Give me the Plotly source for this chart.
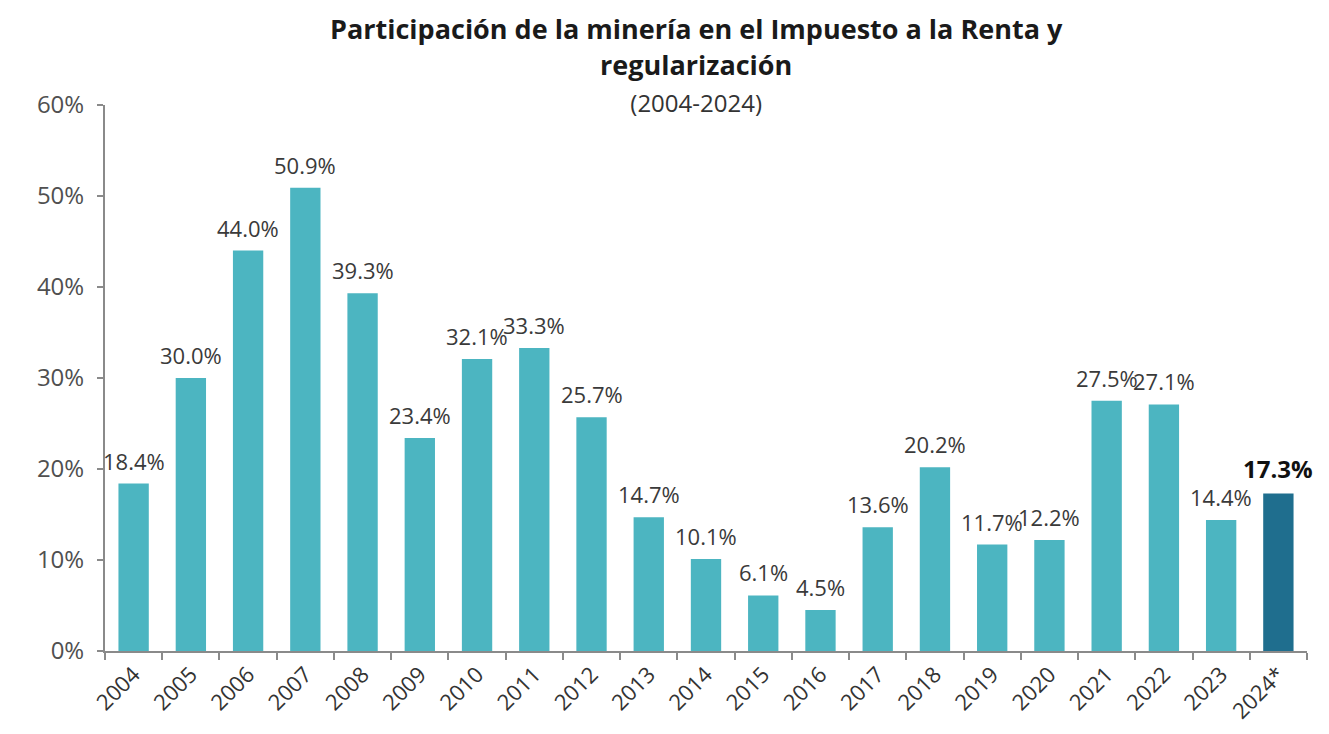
import plotly.graph_objects as go

years = ["2004", "2005", "2006", "2007", "2008", "2009", "2010", "2011", "2012", "2013",
         "2014", "2015", "2016", "2017", "2018", "2019", "2020", "2021", "2022", "2023", "2024*"]
values = [18.4, 30.0, 44.0, 50.9, 39.3, 23.4, 32.1, 33.3, 25.7, 14.7,
          10.1, 6.1, 4.5, 13.6, 20.2, 11.7, 12.2, 27.5, 27.1, 14.4, 17.3]
y_ticks = [0, 10, 20, 30, 40, 50, 60]
y_tick_labels = ["0%", "10%", "20%", "30%", "40%", "50%", "60%"]
title_line1 = "Participación de la minería en el Impuesto a la Renta y"
title_line2 = "regularización"
subtitle = "(2004-2024)"

LIGHT = "#4CB5C1"
DARK = "#1F6E8E"
FONT = "'Open Sans', sans-serif"

colors = [DARK if y.endswith("*") else LIGHT for y in years]

fig = go.Figure(go.Bar(
    x=years, y=values,
    marker=dict(color=colors, line=dict(width=0)),
    width=0.53,
    hoverinfo="x+y",
))

annotations = []
for i, (y, v) in enumerate(zip(years, values)):
    star = y.endswith("*")
    annotations.append(dict(
        x=i, y=v, xref="x", yref="y",   # category index on the category axis
        text=f"<b>{v:.1f}%</b>" if star else f"{v:.1f}%",
        showarrow=False, xanchor="center", yanchor="bottom", yshift=7 if star else 6,
        font=dict(family=FONT, size=24 if star else 22, color="#111111" if star else "#3a3a3a"),
    ))

# title block: one text element, three lines (line spacing follows the base size)
title_text = (f"<span style='font-size:27px'><b>{title_line1}</b></span><br>"
              f"<span style='font-size:27px'><b>{title_line2}</b></span><br>"
              f"<span style='font-size:24px;color:#333333'>{subtitle}</span>")
annotations.append(dict(
    x=0.4917, y=1.075, xref="paper", yref="paper", text=title_text,
    showarrow=False, xanchor="center", yanchor="middle", align="center",
    font=dict(family=FONT, size=28, color="#1a1a1a"),
))

# page body has an 8px default margin; compensate so the chart lands at the reference pixels
fig.update_layout(
    width=1321, height=726,
    paper_bgcolor="white", plot_bgcolor="white",
    margin=dict(l=97, r=22, t=97, b=83),
    showlegend=False,
    font=dict(family=FONT, color="#404040"),
    annotations=annotations,
    xaxis=dict(
        type="category", range=[-0.5, len(years) - 0.5],
        showline=True, linecolor="#8a8a8a", linewidth=2,
        ticks="outside", ticklen=7, tickcolor="#8a8a8a", tickwidth=2,
        tickson="boundaries", tickangle=-45,
        tickfont=dict(family=FONT, size=22, color="#333333"),
        showgrid=False, automargin=False,
    ),
    yaxis=dict(
        range=[0, 60], tickvals=y_ticks, ticktext=y_tick_labels,
        showline=True, linecolor="#8a8a8a", linewidth=2,
        ticks="outside", ticklen=6, tickcolor="#8a8a8a", tickwidth=2,
        ticklabelstandoff=8,
        tickfont=dict(family=FONT, size=24, color="#505050"),
        showgrid=False, zeroline=False, automargin=False,
    ),
)

fig.write_html("out.html")
